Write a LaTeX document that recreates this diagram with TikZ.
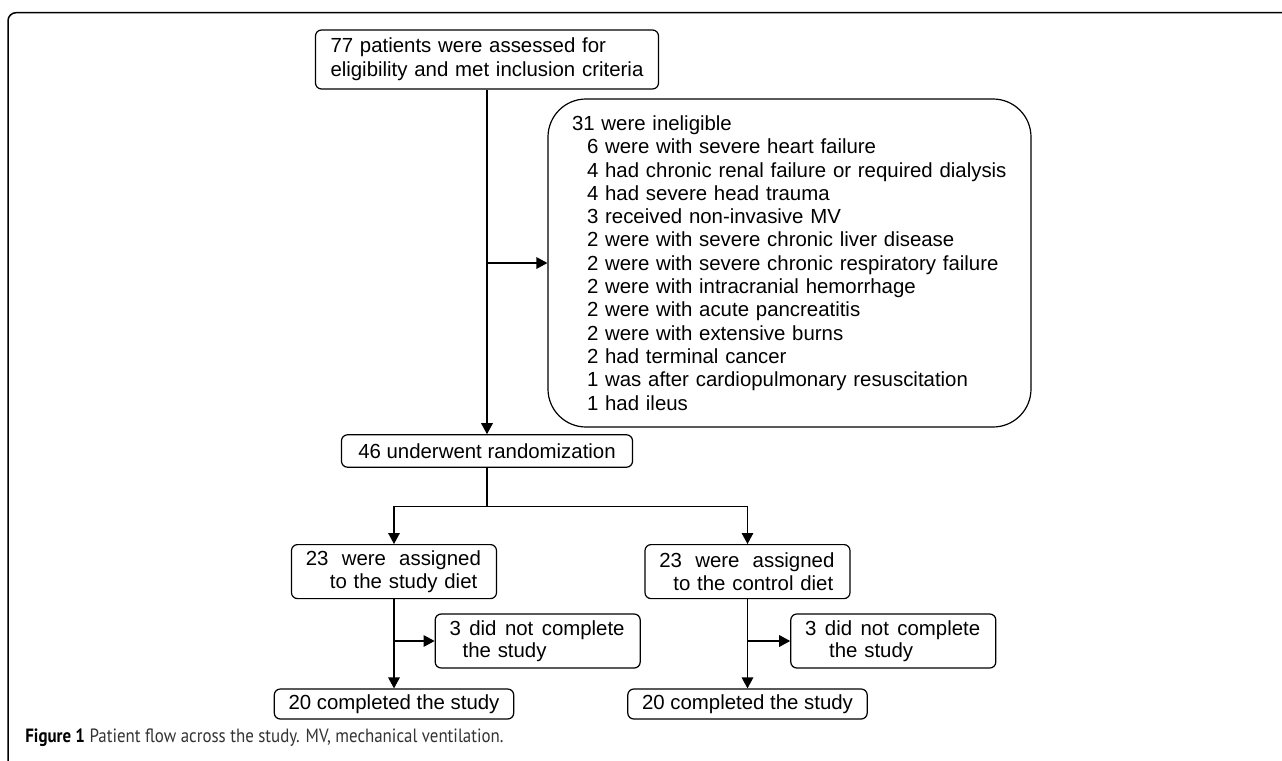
\documentclass[tikz,border=0pt]{standalone}
\usepackage{graphicx}
\usepackage{fontspec}
\setmainfont{Liberation Sans}
\newfontfamily\capfont{PT Sans}
\usetikzlibrary{arrows.meta}
\newcommand{\subind}{\hspace*{7.5pt}}

\begin{document}
\begin{tikzpicture}[x=0.5pt,y=-0.5pt,
  flowbox/.style={draw,line width=0.6pt,rounded corners=3pt,inner ysep=0pt,
    font=\fontsize{10.2pt}{11.15pt}\selectfont},
  twoline/.style={flowbox,align=left,inner xsep=7.2pt,text width=88.1pt,minimum height=27pt},
  oneline/.style={flowbox,inner xsep=0pt},
  flowline/.style={line width=0.6pt},
  flowarrow/.style={flowline,-{Triangle[length=5.5pt,width=5.8pt]}}]

\useasboundingbox (0,0) rectangle (1282,761);

% frame
\draw[line width=0.75pt,rounded corners=4pt] (8,761) -- (8,12.7) -- (1282,12.7);

% top box
\node[flowbox,align=left,inner xsep=7.5pt,text width=156.5pt,minimum height=29.5pt,
  font=\fontsize{10.2pt}{12pt}\selectfont] (assessed) at (487,59.5)
  {77 patients were assessed for\\eligibility and met inclusion criteria};

% ineligible
\node[flowbox,align=left,rounded corners=19pt,inner xsep=12pt,text width=217.5pt,
  minimum height=164pt,font=\fontsize{10.2pt}{11.65pt}\selectfont] (excluded) at (789.5,263)
  {31 were ineligible\\
   \subind 6 were with severe heart failure\\
   \subind 4 had chronic renal failure or required dialysis\\
   \subind 4 had severe head trauma\\
   \subind 3 received non-invasive MV\\
   \subind 2 were with severe chronic liver disease\\
   \subind 2 were with severe chronic respiratory failure\\
   \subind 2 were with intracranial hemorrhage\\
   \subind 2 were with acute pancreatitis\\
   \subind 2 were with extensive burns\\
   \subind 2 had terminal cancer\\
   \subind 1 was after cardiopulmonary resuscitation\\
   \subind 1 had ileus};

% randomization
\node[oneline,minimum width=145.5pt,minimum height=16.2pt] (random) at (487,451)
  {46 underwent randomization};

% left arm
\node[twoline] (studyarm) at (394,571.6)
  {\makebox[87.5pt]{23\hfill were\hfill assigned}\\\hspace*{12pt}to the study diet};
\node[twoline] (studydrop) at (537.7,641)
  {\makebox[87.5pt]{3\hfill did\hfill not\hfill complete}\\\hspace*{6.5pt}the study};
\node[oneline,minimum width=119.7pt,minimum height=15pt] (studydone) at (394,704)
  {20 completed the study};

% right arm
\node[twoline] (controlarm) at (747.5,571.6)
  {\makebox[87.5pt]{23\hfill were\hfill assigned}\\\hspace*{7pt}to the control diet};
\node[twoline] (controldrop) at (893.3,641)
  {\makebox[87.5pt]{3\hfill did\hfill not\hfill complete}\\\hspace*{12pt}the study};
\node[oneline,minimum width=119.7pt,minimum height=15pt] (controldone) at (747.5,704)
  {20 completed the study};

% junctions
\coordinate (exclsplit) at (487,263);
\coordinate (armsplit) at (487,506.7);
\coordinate (studysplit) at (394,641);
\coordinate (controlsplit) at (747.5,641);

% connectors
\draw[flowarrow] (assessed) -- (random);
\draw[flowarrow] (exclsplit) -- (excluded);
\draw[flowline] (random) -- (armsplit);
\draw[flowarrow] (armsplit) -| (studyarm);
\draw[flowarrow] (armsplit) -| (controlarm);
\draw[flowarrow] (studyarm) -- (studydone);
\draw[flowarrow] (studysplit) -- (studydrop);
\draw[flowarrow] (controlarm) -- (controldone);
\draw[flowarrow] (controlsplit) -- (controldrop);

% caption
\node[anchor=west,inner sep=0pt,font=\capfont\fontsize{9.6pt}{11pt}\selectfont] (caption) at (25,738)
  {\scalebox{0.88}[1]{\textbf{Figure 1} {\color{black!80}Patient flow across the study. MV, mechanical ventilation.}}};

\end{tikzpicture}
\end{document}
